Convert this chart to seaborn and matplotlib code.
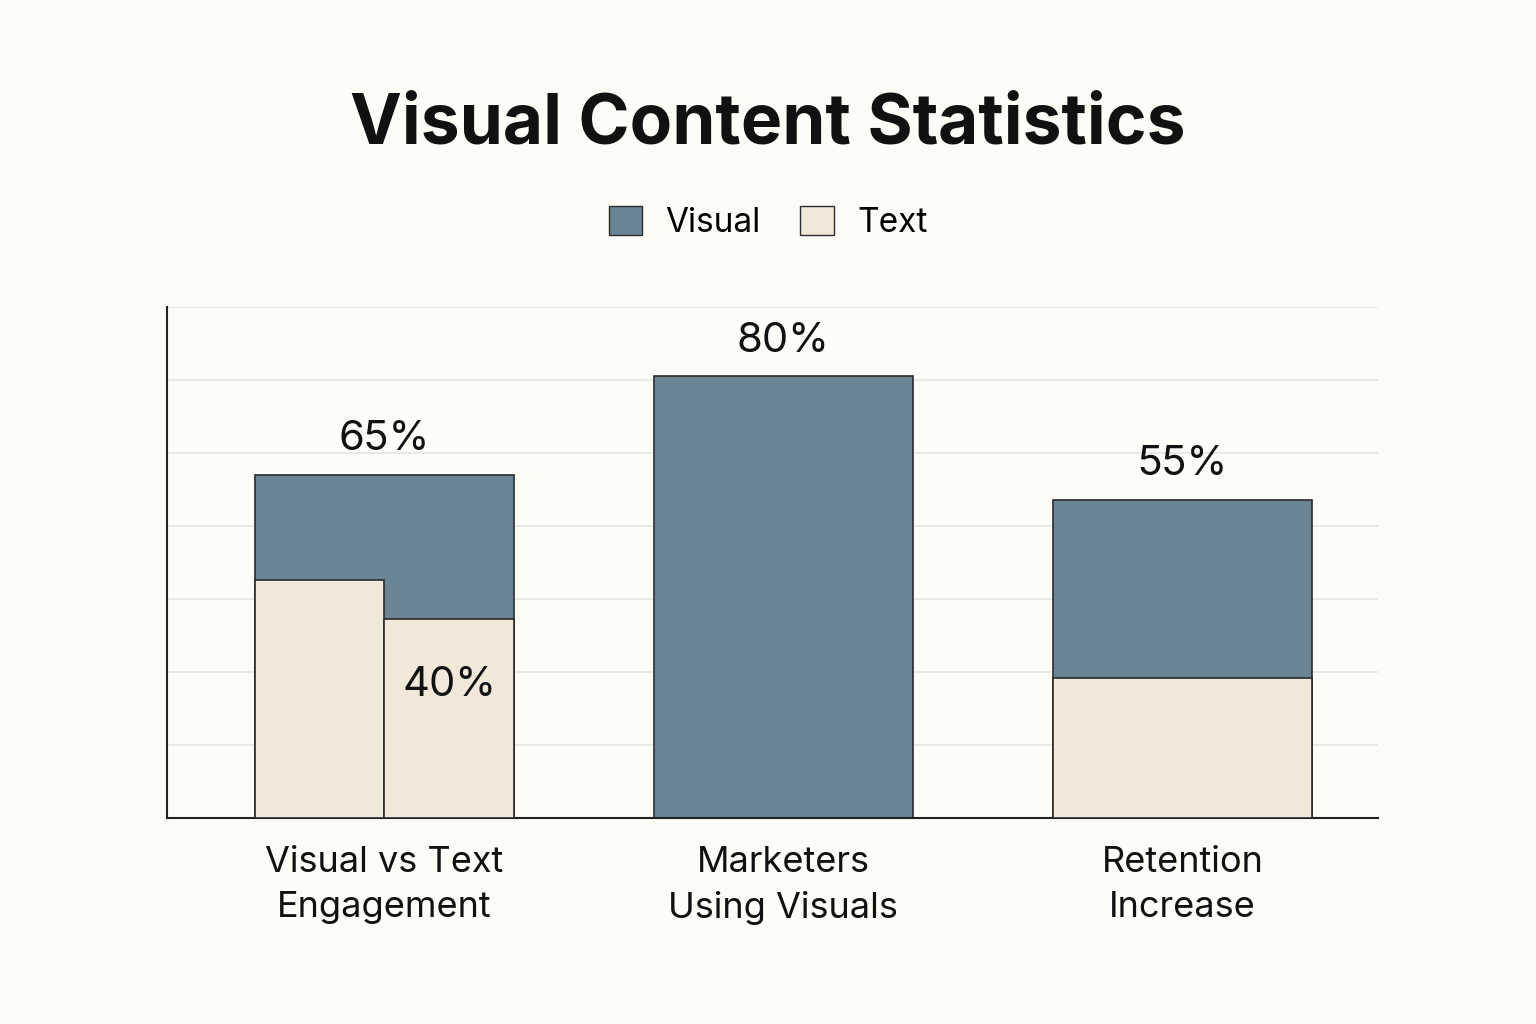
import matplotlib
matplotlib.use("Agg")
import matplotlib.pyplot as plt
import seaborn as sns
import pandas as pd
from matplotlib.patches import Patch

categories = ["Visual vs Text\nEngagement", "Marketers\nUsing Visuals", "Retention\nIncrease"]
visual_values = [62.5, 80.4, 58.0]
visual_labels = ["65%", "80%", "55%"]
text_left_values = [43.3, 0, 25.6]   # left half (or full bar for retention)
text_right_values = [36.2, 0, 25.6]
text_label = "40%"

VIS = "#6a8596"; TXT = "#f1e8da"; EDGE = "#2b2b2b"; BG = "#fdfcf7"

fig = plt.figure(figsize=(15.36, 10.24), dpi=100, facecolor=BG)
ax = fig.add_axes([0.109, 0.201, 0.788, 0.499], facecolor=BG)
df = pd.DataFrame({"cat": categories, "v": visual_values})
sns.barplot(data=df, x="cat", y="v", color=VIS, width=0.65, edgecolor=EDGE,
            linewidth=1.2, saturation=1, ax=ax, zorder=2)
w = 0.65
ax.bar(0 - w/4, text_left_values[0], width=w/2, color=TXT, edgecolor=EDGE, linewidth=1.2, zorder=3)
ax.bar(0 + w/4, text_right_values[0], width=w/2, color=TXT, edgecolor=EDGE, linewidth=1.2, zorder=3)
ax.bar(2, text_left_values[2], width=w, color=TXT, edgecolor=EDGE, linewidth=1.2, zorder=3)

for i, (v, lab) in enumerate(zip(visual_values, visual_labels)):
    ax.text(i, v + 3, lab, ha="center", va="bottom", fontsize=30, color="#111", family="Inter")
ax.text(0 + w/4, text_right_values[0] - 12, text_label, ha="center", va="center",
        fontsize=30, color="#111", family="Inter", zorder=4)

ax.set_xlim(-0.544, 2.49)
ax.set_ylim(0, 93)
ax.set_yticks([93/7*k for k in range(1, 8)])
ax.yaxis.grid(True, color="#e6e6e2", linewidth=1.2, zorder=0)
ax.set_axisbelow(True)
ax.tick_params(axis="y", length=0, labelleft=False)
ax.tick_params(axis="x", length=0, pad=20, labelsize=26)
for t in ax.get_xticklabels():
    t.set_family("Inter"); t.set_color("#111"); t.set_linespacing(1.45)
ax.set_xlabel(""); ax.set_ylabel("")
for s in ["top", "right"]:
    ax.spines[s].set_visible(False)
for s in ["left", "bottom"]:
    ax.spines[s].set_color("#222"); ax.spines[s].set_linewidth(1.5)

fig.text(0.5, 0.878, "Visual Content Statistics", ha="center", va="center",
         fontsize=50, fontweight="bold", family="Inter", color="#111")
handles = [Patch(facecolor=VIS, edgecolor=EDGE, label="Visual"),
           Patch(facecolor=TXT, edgecolor=EDGE, label="Text")]
fig.legend(handles=handles, loc="center", bbox_to_anchor=(0.5, 0.783), ncol=2,
           frameon=False, prop={"family": "Inter", "size": 24}, handlelength=1.0,
           handleheight=1.0, columnspacing=1.2, handletextpad=0.7)
fig.savefig("out.png", dpi=100, facecolor=BG)
